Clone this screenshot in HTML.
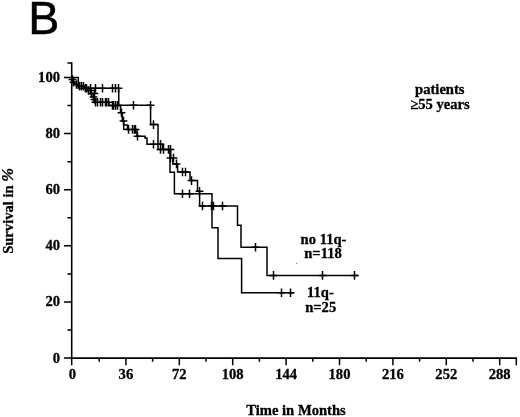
<!DOCTYPE html>
<html><head><meta charset="utf-8"><title>B</title>
<style>
html,body{margin:0;padding:0;background:#fff;}
svg{display:block;filter:grayscale(1)}
text{font-family:"Liberation Serif",serif;font-weight:bold;fill:#000;stroke:#000;stroke-width:0.3px}
.b{font-family:"Liberation Sans",sans-serif;font-weight:normal;stroke-width:0.5px}
</style></head><body>
<svg width="520" height="417" viewBox="0 0 520 417">
<rect width="520" height="417" fill="#fff"/>
<text class="b" transform="translate(28.2,33.7) scale(1.02,1)" font-size="45.7">B</text>
<path d="M71.7,62.95 V358.10 H516.30" fill="none" stroke="#000" stroke-width="1.6" stroke-linecap="square"/>
<path d="M64.00,358.10 H71.7 M67.40,330.04 H71.7 M64.00,301.98 H71.7 M67.40,273.92 H71.7 M64.00,245.86 H71.7 M67.40,217.80 H71.7 M64.00,189.74 H71.7 M67.40,161.68 H71.7 M64.00,133.62 H71.7 M67.40,105.56 H71.7 M64.00,77.50 H71.7 M67.40,62.95 H71.7 M71.70,358.10 V365.30 M99.20,358.10 V361.70 M125.90,358.10 V365.30 M152.60,358.10 V361.70 M179.30,358.10 V365.30 M206.00,358.10 V361.70 M232.70,358.10 V365.30 M259.40,358.10 V361.70 M286.10,358.10 V365.30 M312.80,358.10 V361.70 M339.50,358.10 V365.30 M366.20,358.10 V361.70 M392.90,358.10 V365.30 M419.60,358.10 V361.70 M446.30,358.10 V365.30 M473.00,358.10 V361.70 M499.70,358.10 V365.30 M516.30,358.10 V365.30" fill="none" stroke="#000" stroke-width="1.5"/>
<path d="M71.7,77.5 V79.5 H73 V82 H75 V84.5 H77.5 V86.3 H84 V88.3 H88 V90.5 H91 V93.5 H93.3 V97 H94 V102.3 H109 V105.4 H120.5 V112.75 H122.3 V121 H123.75 V125 H127.5 V129.4 H137 V136.25 H145 V138 H147 V144.3 H162.5 V149.4 H170.6 V157.9 H172.8 V163.9 H177.6 V172 H190 V180.6 H197.5 V191.2 H199.6 V206 H237.5 V225.2 H241 V247.2 H267 V275.4 H358.5" fill="none" stroke="#000" stroke-width="1.5" stroke-linejoin="miter"/>
<path d="M71.7,77.5 H78.3 V88.3 H118.75 V105.2 H150.6 V124.6 H158 V149.4 H170 V172.3 H174.4 V193.75 H212 V227.7 H218 V258.4 H241.6 V292.7 H294" fill="none" stroke="#000" stroke-width="1.5" stroke-linejoin="miter"/>
<path d="M123.75,125 V129.4 H127.5" fill="none" stroke="#000" stroke-width="1.4"/>
<path d="M72.50,75.20 V83.80 M68.60,79.50 H76.40 M73.50,77.90 V86.50 M69.60,82.20 H77.40 M76.50,80.20 V88.80 M72.60,84.50 H80.40 M79.50,82.00 V90.60 M75.60,86.30 H83.40 M81.50,82.00 V90.60 M77.60,86.30 H85.40 M83.50,82.00 V90.60 M79.60,86.30 H87.40 M85.50,84.00 V92.60 M81.60,88.30 H89.40 M86.50,84.00 V92.60 M82.60,88.30 H90.40 M88.50,86.20 V94.80 M84.60,90.50 H92.40 M90.50,86.20 V94.80 M86.60,90.50 H94.40 M91.50,89.20 V97.80 M87.60,93.50 H95.40 M94.50,89.20 V97.80 M90.60,93.50 H98.40 M93.50,92.70 V101.30 M89.60,97.00 H97.40 M94.50,95.20 V103.80 M90.60,99.50 H98.40 M95.50,98.00 V106.60 M91.60,102.30 H99.40 M97.50,98.00 V106.60 M93.60,102.30 H101.40 M100.50,98.00 V106.60 M96.60,102.30 H104.40 M102.50,98.00 V106.60 M98.60,102.30 H106.40 M105.50,98.00 V106.60 M101.60,102.30 H109.40 M106.50,98.00 V106.60 M102.60,102.30 H110.40 M108.50,98.00 V106.60 M104.60,102.30 H112.40 M112.50,101.10 V109.70 M108.60,105.40 H116.40 M113.50,101.10 V109.70 M109.60,105.40 H117.40 M115.50,101.10 V109.70 M111.60,105.40 H119.40 M117.50,101.10 V109.70 M113.60,105.40 H121.40 M121.50,108.45 V117.05 M117.60,112.75 H125.40 M123.50,116.70 V125.30 M119.60,121.00 H127.40 M128.50,125.10 V133.70 M124.60,129.40 H132.40 M132.50,125.10 V133.70 M128.60,129.40 H136.40 M134.50,125.10 V133.70 M130.60,129.40 H138.40 M135.50,125.10 V133.70 M131.60,129.40 H139.40 M137.50,131.95 V140.55 M133.60,136.25 H141.40 M153.50,140.00 V148.60 M149.60,144.30 H157.40 M160.50,140.00 V148.60 M156.60,144.30 H164.40 M163.50,145.10 V153.70 M159.60,149.40 H167.40 M168.50,145.10 V153.70 M164.60,149.40 H172.40 M170.50,145.10 V153.70 M166.60,149.40 H174.40 M170.50,153.60 V162.20 M166.60,157.90 H174.40 M173.50,153.70 V162.30 M169.60,158.00 H177.40 M176.50,159.60 V168.20 M172.60,163.90 H180.40 M182.50,167.70 V176.30 M178.60,172.00 H186.40 M185.50,167.70 V176.30 M181.60,172.00 H189.40 M191.50,176.30 V184.90 M187.60,180.60 H195.40 M199.50,186.90 V195.50 M195.60,191.20 H203.40 M202.50,201.70 V210.30 M198.60,206.00 H206.40 M211.50,201.70 V210.30 M207.60,206.00 H215.40 M213.50,201.70 V210.30 M209.60,206.00 H217.40 M222.50,201.70 V210.30 M218.60,206.00 H226.40 M255.50,242.90 V251.50 M251.60,247.20 H259.40 M273.50,271.10 V279.70 M269.60,275.40 H277.40 M322.50,271.10 V279.70 M318.60,275.40 H326.40 M354.50,271.10 V279.70 M350.60,275.40 H358.40 M90.50,84.00 V92.60 M86.60,88.30 H94.40 M95.50,84.00 V92.60 M91.60,88.30 H99.40 M102.50,84.00 V92.60 M98.60,88.30 H106.40 M112.50,84.00 V92.60 M108.60,88.30 H116.40 M115.50,84.00 V92.60 M111.60,88.30 H119.40 M118.50,84.00 V92.60 M114.60,88.30 H122.40 M133.50,100.90 V109.50 M129.60,105.20 H137.40 M150.50,100.90 V109.50 M146.60,105.20 H154.40 M153.50,120.30 V128.90 M149.60,124.60 H157.40 M160.50,145.10 V153.70 M156.60,149.40 H164.40 M182.50,189.45 V198.05 M178.60,193.75 H186.40 M189.50,189.45 V198.05 M185.60,193.75 H193.40 M281.50,288.40 V297.00 M277.60,292.70 H285.40 M290.50,288.40 V297.00 M286.60,292.70 H294.40" fill="none" stroke="#000" stroke-width="1.5"/>
<circle cx="296.6" cy="263.4" r="0.6" fill="#777"/>
<text x="60" y="362.7" text-anchor="end" font-size="14.6" >0</text>
<text x="60" y="306.08" text-anchor="end" font-size="14.6" >20</text>
<text x="60" y="250.46" text-anchor="end" font-size="14.6" >40</text>
<text x="60" y="194.34" text-anchor="end" font-size="14.6" >60</text>
<text x="60" y="138.22" text-anchor="end" font-size="14.6" >80</text>
<text x="60" y="82.1" text-anchor="end" font-size="14.6" >100</text>
<text x="72.5" y="379.3" text-anchor="middle" font-size="14.6" >0</text>
<text x="125.9" y="379.3" text-anchor="middle" font-size="14.6" >36</text>
<text x="179.3" y="379.3" text-anchor="middle" font-size="14.6" >72</text>
<text x="232.7" y="379.3" text-anchor="middle" font-size="14.6" >108</text>
<text x="286.1" y="379.3" text-anchor="middle" font-size="14.6" >144</text>
<text x="339.5" y="379.3" text-anchor="middle" font-size="14.6" >180</text>
<text x="392.9" y="379.3" text-anchor="middle" font-size="14.6" >216</text>
<text x="446.3" y="379.3" text-anchor="middle" font-size="14.6" >252</text>
<text x="499.7" y="379.3" text-anchor="middle" font-size="14.6" >288</text>
<text x="296" y="414.6" text-anchor="middle" font-size="14.6" >Time in Months</text>
<text x="439.8" y="94.4" text-anchor="middle" font-size="14.6" >patients</text>
<text x="440" y="108.7" text-anchor="middle" font-size="14.6" >&#8805;55 years</text>
<text x="323.5" y="243.9" text-anchor="middle" font-size="14.6" >no 11q-</text>
<text x="323" y="258.1" text-anchor="middle" font-size="14.6" >n=118</text>
<text x="320.4" y="296.5" text-anchor="middle" font-size="14.6" >11q-</text>
<text x="320.7" y="311.8" text-anchor="middle" font-size="14.6" >n=25</text>
<text transform="translate(13.3,210.9) rotate(-90)" text-anchor="middle" font-size="14.6">Survival in <tspan font-style="italic" font-size="16.5">%</tspan></text>
</svg>
</body></html>
